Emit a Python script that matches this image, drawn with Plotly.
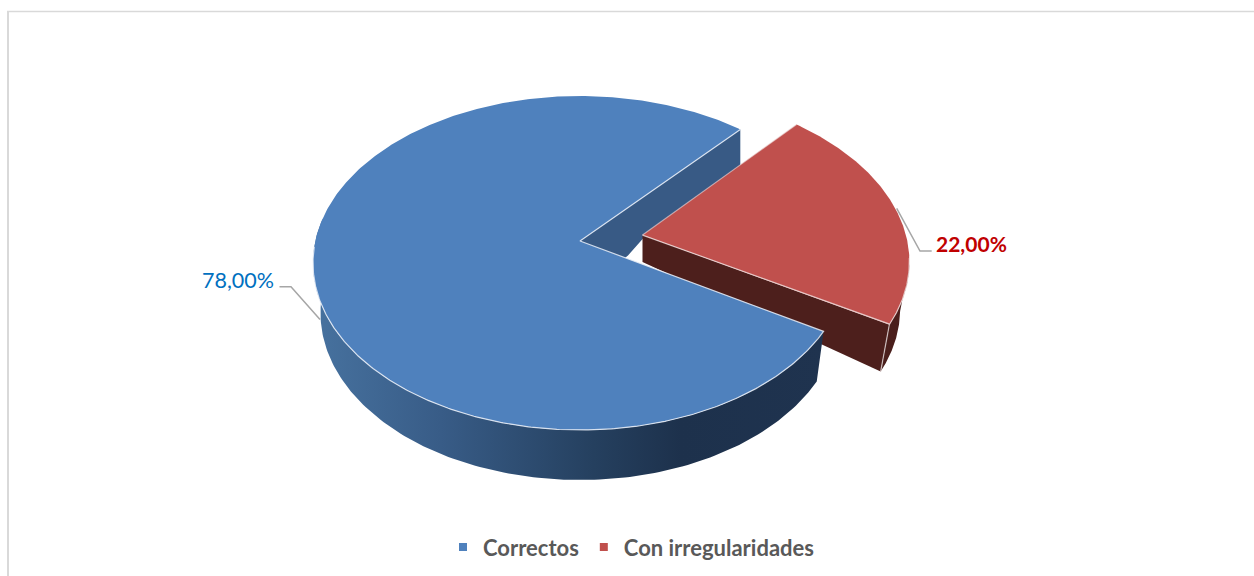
import numpy as np
import plotly.graph_objects as go

categories = ["Correctos", "Con irregularidades"]
values = [78.0, 22.0]
slice_colors = ["#4f81bd", "#c0504d"]
label_colors = ["#0070c0", "#c00000"]

W, H = 1254, 576
START = 48.3          # deg, boundary between the two slices (counterclockwise = blue)
EXPLODE = 0.24        # red slice pull, in radii
RED_LOW_LIFT = 3.0    # lower rim of the pulled slice sits slightly higher
# projection of the pie plane
CX, CY, AX, BX, K = 580.0, 263.0, 267.0, 167.0, 0.1317
AP = 22.0
LCX, LCY, LAX, LBX = 580.0, 313.0, 259.5, 167.0
LAP = 22.0


def top(u, v):
    d = 1 + K * v
    return CX + AX * np.sqrt(1 - K * K) * u / d, CY - (BX * v + AP) / d


def low(u, v):
    d = 1 + K * v
    return LCX + LAX * np.sqrt(1 - K * K) * u / d, LCY - (LBX * v + LAP) / d


blue_span = values[0] / sum(values) * 360
red_span = values[1] / sum(values) * 360
blue_end = START + blue_span
red_mid = np.radians(START - red_span / 2)
ou, ov = EXPLODE * np.cos(red_mid), EXPLODE * np.sin(red_mid)


def rim(fn, a0, a1, off=(0, 0), n=160):
    t = np.radians(np.linspace(a0, a1, n))
    return fn(np.cos(t) + off[0], np.sin(t) + off[1])


def poly(x, y, color, **kw):
    return go.Scatter(x=list(x), y=list(y), mode="lines", fill="toself", fillcolor=color,
                      line=dict(width=0, color=color), hoverinfo="skip", showlegend=False, **kw)


def edge(x, y, color="rgba(235,240,248,0.85)", w=1.2):
    return go.Scatter(x=list(x), y=list(y), mode="lines", line=dict(color=color, width=w),
                      hoverinfo="skip", showlegend=False)


fig = go.Figure()

# blue cut wall along the start edge
a = np.radians(START)
rr = np.array([1.0, 0.39, 0.28, 0.0])
depth = np.array([37.0, 40.0, 48.0, 53.0])
wx, wy = top(rr * np.cos(a), rr * np.sin(a))
ax0, ay0 = top(0.0, 0.0)
rx, ry = top(np.cos(a), np.sin(a))
fig.add_trace(poly([ax0, rx] + list(wx), [ay0, ry] + list(wy + depth), "#385a85"))

# red outer wall
red_off = (ou, ov)
tx, ty = rim(top, START - red_span, -10, red_off)
bx, by = rim(low, START - red_span, -10, red_off)
by = by - RED_LOW_LIFT
fig.add_trace(poly(np.r_[tx, bx[::-1]], np.r_[ty, by[::-1]], "#4a1e1b"))

# red cut wall
c = np.radians(START - red_span)
apx, apy = top(ou, ov)
fx, fy = top(np.cos(c) + ou, np.sin(c) + ov)
gx, gy = low(np.cos(c) + ou, np.sin(c) + ov)
gy = gy - RED_LOW_LIFT
RED_APEX_DEPTH = 27.0
fig.add_trace(poly([apx, fx, gx, apx], [apy, fy, gy, apy + RED_APEX_DEPTH], "#4d1f1c"))

# red top
tx2, ty2 = rim(top, START - red_span, START, red_off)
fig.add_trace(poly(np.r_[apx, tx2], np.r_[apy, ty2], slice_colors[1]))
fig.add_trace(edge([fx, gx], [fy, gy], "rgba(225,215,215,0.8)"))
ex, ey = rim(top, START - red_span, -8, red_off)
fig.add_trace(edge(np.r_[apx, ex], np.r_[apy, ey], "rgba(240,225,225,0.8)"))
e2x, e2y = top(np.cos(a) + ou, np.sin(a) + ov)
fig.add_trace(edge([apx, e2x], [apy, e2y], "rgba(240,225,225,0.6)"))

# blue outer wall with its shading
tx3, ty3 = rim(top, 172, blue_end)
bx3, by3 = rim(low, 172, blue_end)
fig.add_trace(go.Scatter(
    x=np.r_[tx3, bx3[::-1]].tolist(), y=np.r_[ty3, by3[::-1]].tolist(), mode="lines", fill="toself",
    fillgradient=dict(type="horizontal",
                      colorscale=[[0, "#47729f"], [0.25, "#385c87"], [0.55, "#25405f"],
                                  [0.72, "#1d314c"], [1, "#1f334f"]]),
    line=dict(width=0), hoverinfo="skip", showlegend=False))

# blue top
tx4, ty4 = rim(top, START, blue_end, n=500)
fig.add_trace(poly(np.r_[ax0, tx4], np.r_[ay0, ty4], slice_colors[0]))
ex4, ey4 = rim(top, 182, blue_end, n=300)
fig.add_trace(edge(np.r_[ex4, ax0, rx], np.r_[ey4, ay0, ry]))

# legend entries
for name, col in zip(categories, slice_colors):
    fig.add_trace(go.Scatter(x=[None], y=[None], mode="markers", name=name,
                             marker=dict(symbol="square", size=8, color=col)))

leaders = [
    "M 320 319.5 L 291 286.7 L 279.5 286.7",
    "M 896.7 208.3 L 920 251 L 931.7 251",
]
shapes = [dict(type="path", path=p, xref="x", yref="y", layer="below",
               line=dict(color="#a6a6a6", width=1.5)) for p in leaders]
shapes += [
    dict(type="line", x0=8, x1=8, y0=11.5, y1=H, xref="x", yref="y",
         line=dict(color="#d9d9d9", width=2), layer="below"),
    dict(type="line", x0=7, x1=W, y0=11.5, y1=11.5, xref="x", yref="y",
         line=dict(color="#d9d9d9", width=1.5), layer="below"),
]

fmt = [f"{v:.2f}".replace(".", ",") + "%" for v in values]
annotations = [
    dict(x=276, y=280, xref="x", yref="y", text=fmt[0], showarrow=False, xanchor="right", yanchor="middle",
         font=dict(family="Lato, Carlito, sans-serif", size=21.5, color=label_colors[0])),
    dict(x=934, y=243, xref="x", yref="y", text=f"<b>{fmt[1]}</b>", showarrow=False, xanchor="left", yanchor="middle",
         font=dict(family="Lato, Carlito, sans-serif", size=21, color=label_colors[1])),
]

fig.update_layout(
    width=W, height=H, margin=dict(l=0, r=0, t=0, b=0),
    paper_bgcolor="white", plot_bgcolor="white",
    xaxis=dict(range=[0, W], visible=False, fixedrange=True),
    yaxis=dict(range=[H, 0], visible=False, fixedrange=True),
    shapes=shapes, annotations=annotations,
    legend=dict(orientation="h", x=443 / W, xanchor="left", y=0.05, yanchor="middle",
                font=dict(family="Lato, Carlito, sans-serif", size=22, color="#595959", weight="bold"),
                itemwidth=30, bgcolor="rgba(0,0,0,0)"),
)
fig.write_html("out.html", config=dict(displayModeBar=False),
               post_script="document.body.style.margin='0';document.body.style.overflow='hidden';")
